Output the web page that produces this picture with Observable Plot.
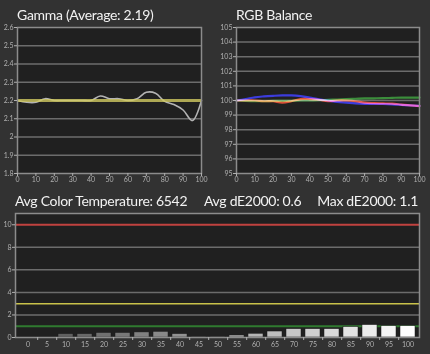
<!DOCTYPE html>
<html><head><meta charset="utf-8">
<script src="https://cdn.jsdelivr.net/npm/d3@7"></script>
<script src="https://cdn.jsdelivr.net/npm/@observablehq/plot@0.6"></script>
<style>
html,body{margin:0;padding:0;background:#323232;}
#root{position:relative;width:430px;height:354px;background:#323232;overflow:hidden;font-family:Lato,sans-serif;}
.t{position:absolute;color:#f2f2f2;font-size:14px;letter-spacing:-0.3px;white-space:nowrap;line-height:15px;}
.p{position:absolute;}
</style></head><body>
<div id="root">
  <div class="t" id="t1" style="left:17px;top:7px;">Gamma (Average: 2.19)</div>
  <div class="t" id="t2" style="left:236px;top:7px;">RGB Balance</div>
  <div class="t" id="t3" style="left:15px;top:193px;">Avg Color Temperature: 6542</div>
  <div class="t" id="t4" style="left:204px;top:193px;">Avg dE2000: 0.6</div>
  <div class="t" id="t5" style="right:12px;top:193px;">Max dE2000: 1.1</div>
  <div class="p" id="g" style="left:0;top:22px;"></div>
  <div class="p" id="r" style="left:215px;top:22px;"></div>
  <div class="p" id="b" style="left:0;top:208px;"></div>
</div>
<script>
// ---- Gamma data ----
const gammaX = [0,5,10,15,20,25,30,35,40,45,50,55,60,65,70,75,80,85,90,95,100];
const gammaValues = [2.20,2.19,2.19,2.21,2.20,2.20,2.20,2.20,2.20,2.225,2.21,2.21,2.20,2.21,2.245,2.24,2.195,2.178,2.148,2.09,2.20];
const gammaTarget = 2.2;
const gammaYTicks = [1.8,1.9,2.0,2.1,2.2,2.3,2.4,2.5,2.6];
const gammaGrid = [1.9,2.0,2.1,2.3,2.4,2.5];
const pctTicks = [0,10,20,30,40,50,60,70,80,90,100];

// ---- RGB balance data ----
const rgbX = [0,5,10,15,20,25,30,35,40,45,50,55,60,65,70,75,80,85,90,95,100];
const redValues = [100,100,100,99.95,99.95,99.85,99.95,100.1,100.1,100.05,99.95,100,100,99.95,99.85,99.82,99.8,99.78,99.72,99.66,99.62];
const greenValues = [100,99.97,99.95,99.95,99.97,99.98,99.98,100,100,100.02,100.05,100.07,100.1,100.12,100.14,100.15,100.16,100.18,100.2,100.2,100.2];
const blueValues = [100,100.1,100.22,100.28,100.32,100.35,100.35,100.3,100.2,100.08,100,99.9,99.85,99.8,99.77,99.76,99.76,99.74,99.7,99.66,99.63];
const rgbYTicks = [95,96,97,98,99,100,101,102,103,104,105];
const rgbGrid = [96,97,98,99,100,101,102,103,104];

// ---- dE2000 data ----
const deLevels = [0,5,10,15,20,25,30,35,40,45,50,55,60,65,70,75,80,85,90,95,100];
const deValues = [0.02,0.0,0.3,0.3,0.4,0.4,0.45,0.5,0.3,0.05,0.05,0.18,0.33,0.53,0.74,0.74,0.74,0.92,1.1,1.0,1.0];
const deYTicks = [0,2,4,6,8,10];
const deGrid = [2,4,6,8];
const deLimitRed = 10, deLimitYellow = 3, deLimitGreen = 1;

const common = {style:{background:"transparent", color:"#b0b0b0", fontSize:"7px", fontFamily:"Lato, sans-serif"}};
const PLOT_BG = "#202020", FRAME = "#8c8c8c", GRID = "#6c6c6c";

const gamma = gammaX.map((x,i)=>({x, y: gammaValues[i]}));
const g = Plot.plot({
  ...common, width:215, height:168, marginLeft:17, marginRight:14, marginTop:5, marginBottom:17,
  x:{domain:[0,100]}, y:{domain:[1.8,2.6]},
  marks:[
    Plot.frame({fill:PLOT_BG}),
    Plot.ruleY(gammaGrid, {stroke:GRID, strokeWidth:1.5}),
    Plot.line(gamma, {x:"x", y:"y", stroke:"#b4b4b4", strokeWidth:1.6, curve:"catmull-rom"}),
    Plot.ruleY([gammaTarget], {stroke:"#d2cb62", strokeWidth:3, opacity:0.8}),
    Plot.frame({stroke:FRAME, strokeWidth:1.5}),
    Plot.axisX(pctTicks, {tickSize:3, tickPadding:1, label:null}),
    Plot.axisY(gammaYTicks, {tickSize:3, tickPadding:1, label:null, tickFormat:d=>String(+d.toFixed(1))})
  ]
});
document.getElementById("g").append(g);

const series = [
  {name:"G", vals:greenValues, color:"#1f7d1f"},
  {name:"B", vals:blueValues, color:"#2020d8"},
  {name:"R", vals:redValues, color:"#d8381c"}
];
const r = Plot.plot({
  ...common, width:215, height:168, marginLeft:21, marginRight:11, marginTop:5, marginBottom:17,
  x:{domain:[0,100]}, y:{domain:[95,105]},
  marks:[
    Plot.frame({fill:PLOT_BG}),
    Plot.ruleY(rgbGrid, {stroke:GRID, strokeWidth:1.5}),
    ...series.map(s=>Plot.line(rgbX.map((x,i)=>({x, y:s.vals[i]})), {x:"x", y:"y", stroke:s.color, strokeWidth:2.2, curve:"catmull-rom", mixBlendMode:"screen"})),
    Plot.frame({stroke:FRAME, strokeWidth:1.5}),
    Plot.axisX(pctTicks, {tickSize:3, tickPadding:1, label:null}),
    Plot.axisY(rgbYTicks, {tickSize:3, tickPadding:1, label:null})
  ]
});
document.getElementById("r").append(r);

const de = deLevels.map((l,i)=>({level:l, de:deValues[i]}));
const bw = 430, bml = 15, bmr = 11, pin = 0.22, pout = 0.02;
const step = (bw - bml - bmr) / (deLevels.length - pin + 2*pout);
const b = Plot.plot({
  ...common, width:bw, height:146, marginLeft:bml, marginRight:bmr, marginTop:5, marginBottom:17,
  x:{type:"band", domain:deLevels, paddingInner:pin, paddingOuter:pout}, y:{domain:[0,11]},
  marks:[
    Plot.frame({fill:PLOT_BG}),
    Plot.ruleY(deGrid, {stroke:GRID, strokeWidth:1.5}),
    Plot.ruleY([deLimitRed], {stroke:"#c0423f", strokeWidth:2}),
    Plot.ruleY([deLimitYellow], {stroke:"#c9c24a", strokeWidth:1.5}),
    Plot.ruleY([deLimitGreen], {stroke:"#2f7a2f", strokeWidth:2}),
    Plot.barY(de, {x:"level", y:"de", fill:d=>d3.gray(34 + 66*d.level/100).formatHex(), stroke:"#1a1a1a", strokeWidth:0.5}),
    Plot.frame({stroke:FRAME, strokeWidth:1.5}),
    Plot.axisX(deLevels, {tickSize:0, tickPadding:5, label:null}),
    Plot.axisX(deLevels.slice(0,-1), {tickSize:3, tickFormat:()=>"", dx:step/2, label:null}),
    Plot.axisY(deYTicks, {tickSize:3, tickPadding:1, label:null})
  ]
});
document.getElementById("b").append(b);
</script>
</body></html>
